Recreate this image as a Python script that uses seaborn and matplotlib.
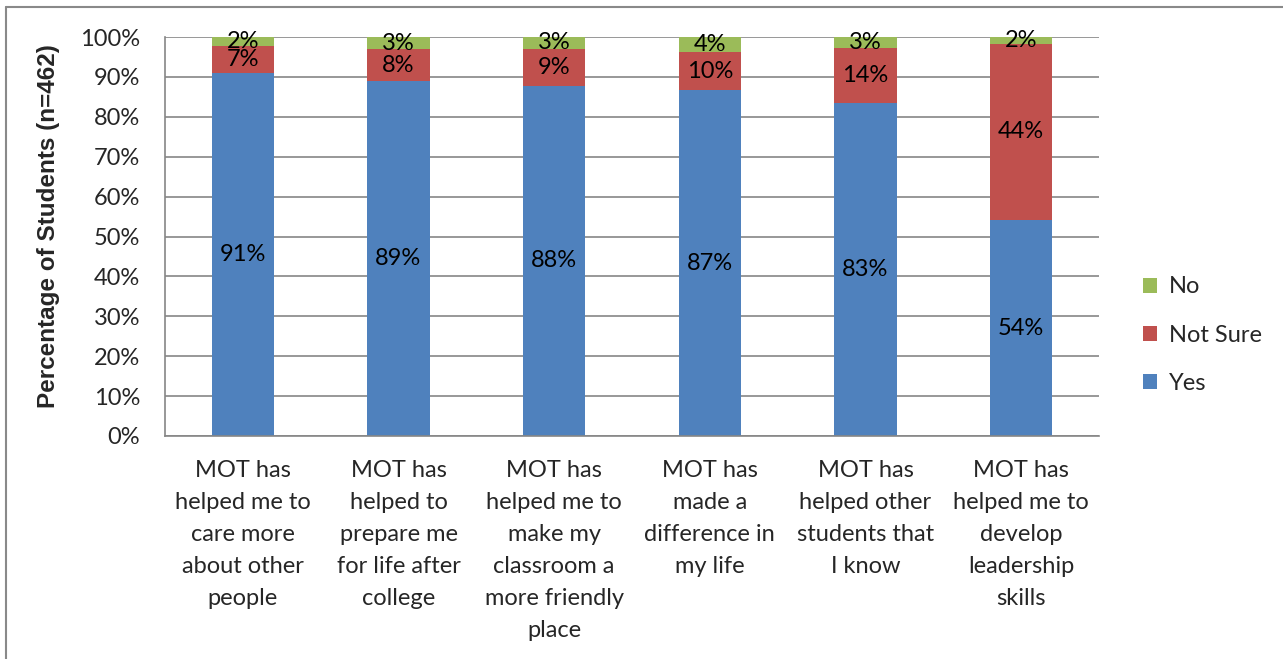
import matplotlib
matplotlib.use("Agg")
import matplotlib.pyplot as plt
import seaborn as sns
import numpy as np
import pandas as pd
from matplotlib.patches import Patch
from matplotlib.lines import Line2D

categories = [
    "MOT has\nhelped me to\ncare more\nabout other\npeople",
    "MOT has\nhelped to\nprepare me\nfor life after\ncollege",
    "MOT has\nhelped me to\nmake my\nclassroom a\nmore friendly\nplace",
    "MOT has\nmade a\ndifference in\nmy life",
    "MOT has\nhelped other\nstudents that\nI know",
    "MOT has\nhelped me to\ndevelop\nleadership\nskills",
]
yes = [91.0, 88.9, 87.8, 86.6, 83.4, 54.1]
not_sure = [6.8, 8.0, 9.2, 9.6, 13.9, 44.2]
no = [2.2, 3.1, 3.0, 3.8, 2.7, 1.7]

series_names = ["Yes", "Not Sure", "No"]
colors = {"Yes": "#4F81BD", "Not Sure": "#C0504D", "No": "#9BBB59"}

sns.set_style("white")
plt.rcParams["font.family"] = ["Lato", "DejaVu Sans"]
FS = 17

W, H = 1283, 659
fig = plt.figure(figsize=(W / 100, H / 100), dpi=100)
ax = fig.add_axes([165 / W, 1 - 436 / H, (1099 - 165) / W, (436 - 37) / H])

df = pd.DataFrame({"cat": categories, "Yes": yes, "Not Sure": not_sure, "No": no})
bottom = np.zeros(len(categories))
for name in series_names:
    vals = np.array(df[name])
    sns.barplot(x=df["cat"], y=vals, bottom=bottom, color=colors[name],
                width=0.40, ax=ax, saturation=1, edgecolor="none", linewidth=0)
    cont = ax.containers[-1]
    ax.bar_label(cont, labels=[f"{round(v):d}%" for v in vals], label_type="center",
                 fontsize=FS, color="black")
    bottom = bottom + vals

grid_c = "#868686"
ax.set_ylim(0, 100)
ax.set_xlim(-0.5, len(categories) - 0.5)
ax.set_yticks(np.arange(0, 101, 10))
ax.set_yticklabels([f"{v}%" for v in range(0, 101, 10)], fontsize=FS)
ax.yaxis.grid(True, color=grid_c, linewidth=1.2)
ax.set_axisbelow(True)
ax.set_xticks(range(len(categories)))
ax.set_xticklabels(categories, fontsize=FS, linespacing=1.65)
ax.tick_params(axis="x", length=0, pad=17)
ax.set_xticks(np.arange(-0.5, len(categories), 1), minor=True)
ax.tick_params(axis="x", which="minor", length=6, width=1.2, color=grid_c, direction="out")
ax.tick_params(axis="y", length=6, width=1.2, color=grid_c, direction="out", pad=12)
ax.set_xlabel("")
for s in ["top", "right"]:
    ax.spines[s].set_visible(False)
for s in ["left", "bottom"]:
    ax.spines[s].set_color(grid_c)
    ax.spines[s].set_linewidth(1.2)

ax.set_ylabel("Percentage of Students (n=462)",
              fontproperties={"family": "Liberation Sans", "weight": "bold", "size": 17.5})
ax.yaxis.set_label_coords((60 - 165) / (1099 - 165), (436 - 226) / (436 - 37))

handles = [Patch(facecolor=colors[n], edgecolor="none") for n in ["No", "Not Sure", "Yes"]]
fig.legend(handles, ["No", "Not Sure", "Yes"], loc="center left",
           bbox_to_anchor=(1122 / W, 1 - 335 / H), frameon=False, fontsize=17,
           handlelength=0.6, handleheight=0.6, handletextpad=0.5, labelspacing=1.15)

fig.add_artist(Line2D([6 / W, 1.0], [1 - 7 / H, 1 - 7 / H], color="#898989", linewidth=1.5,
                      transform=fig.transFigure))
fig.add_artist(Line2D([6 / W, 6 / W], [0.0, 1 - 7 / H], color="#898989", linewidth=1.5,
                      transform=fig.transFigure))

fig.savefig("out.png", dpi=100, facecolor="white")
